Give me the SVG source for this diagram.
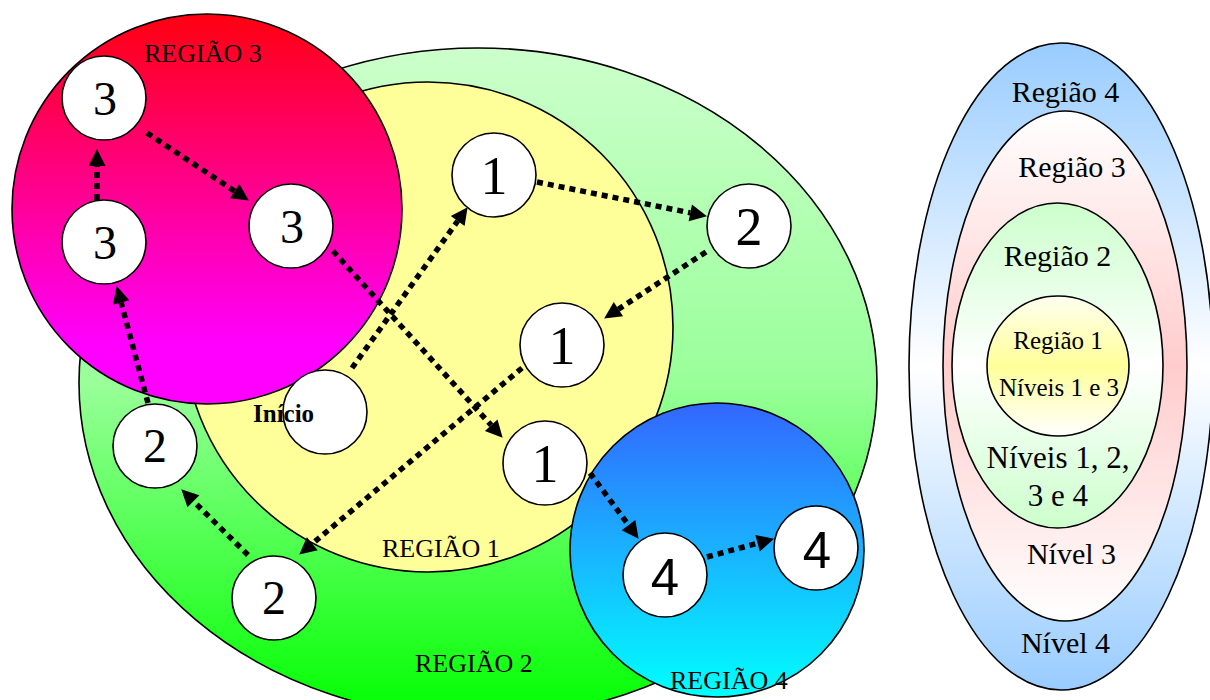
<svg xmlns="http://www.w3.org/2000/svg" width="1210" height="700" viewBox="0 0 1210 700">
  <style>
    .region { stroke: #000; stroke-width: 1.6; }
    .node { fill: #fff; stroke: #000; stroke-width: 1.6; }
    .lbl { font-family: "Liberation Serif", "Times New Roman", serif; fill: #000; }
    .num { font-family: "Liberation Serif", "Times New Roman", serif; fill: #000; text-anchor: middle; }
    .num4 { font-family: "Liberation Sans", Arial, sans-serif; fill: #000; text-anchor: middle; }
    .mid { text-anchor: middle; }
    .flow { fill: none; stroke: #000; stroke-width: 5.5; stroke-dasharray: 6 5; marker-end: url(#head); }
  </style>
  <defs>
    <marker id="head" markerUnits="userSpaceOnUse" markerWidth="18" markerHeight="17" refX="0" refY="8.5" orient="auto" overflow="visible">
      <path d="M0,0 L17,8.5 L0,17 z" fill="#000"/>
    </marker>
    <linearGradient id="gGreen" x1="0" y1="0" x2="0" y2="1">
      <stop offset="0" stop-color="#CCFFCC"/>
      <stop offset="0.5" stop-color="#99FF99"/>
      <stop offset="1" stop-color="#00FF00"/>
    </linearGradient>
    <linearGradient id="gMagenta" x1="0" y1="0" x2="0" y2="1">
      <stop offset="0" stop-color="#FF0010"/>
      <stop offset="0.85" stop-color="#FF00FF"/>
      <stop offset="1" stop-color="#FF00FF"/>
    </linearGradient>
    <linearGradient id="gBlue" x1="0" y1="0" x2="0" y2="1">
      <stop offset="0" stop-color="#3366FF"/>
      <stop offset="1" stop-color="#00FFFF"/>
    </linearGradient>
    <linearGradient id="kBlue" x1="0" y1="0" x2="0" y2="1">
      <stop offset="0" stop-color="#99CCFF"/>
      <stop offset="0.5" stop-color="#FFFFFF"/>
      <stop offset="1" stop-color="#99CCFF"/>
    </linearGradient>
    <linearGradient id="kPink" x1="0" y1="0" x2="0" y2="1">
      <stop offset="0" stop-color="#FFFFFF"/>
      <stop offset="0.5" stop-color="#FFCCCC"/>
      <stop offset="1" stop-color="#FFFFFF"/>
    </linearGradient>
    <linearGradient id="kGreen" x1="0" y1="0" x2="0" y2="1">
      <stop offset="0" stop-color="#CCFFCC"/>
      <stop offset="0.5" stop-color="#FFFFFF"/>
      <stop offset="1" stop-color="#CCFFCC"/>
    </linearGradient>
    <linearGradient id="kYellow" x1="0" y1="0" x2="0" y2="1">
      <stop offset="0" stop-color="#FFFFF0"/>
      <stop offset="0.5" stop-color="#FFFF99"/>
      <stop offset="1" stop-color="#FFFFFF"/>
    </linearGradient>
  </defs>

  <!-- regions of the main map -->
  <g id="regiao2">
    <ellipse class="region" cx="478" cy="383" rx="399" ry="335" fill="url(#gGreen)"/>
  </g>
  <g id="regiao1">
    <circle class="region" cx="428" cy="327" r="245" fill="#FFFF99"/>
    <text class="lbl" x="382" y="557" font-size="26">REGIÃO 1</text>
  </g>
  <g id="regiao3">
    <circle class="region" cx="207" cy="209" r="195" fill="url(#gMagenta)"/>
    <text class="lbl" x="144" y="62" font-size="26">REGIÃO 3</text>
  </g>
  <g id="regiao4">
    <circle class="region" cx="717" cy="550" r="147" fill="url(#gBlue)"/>
  </g>
  <text class="lbl" x="415" y="672" font-size="26">REGIÃO 2</text>
  <text class="lbl" x="670" y="689" font-size="26">REGIÃO 4</text>

  <!-- nodes -->
  <g id="inicio">
    <circle class="node" cx="325" cy="412" r="42"/>
    <text class="lbl" x="253" y="422" font-size="25" font-weight="bold">Início</text>
  </g>
  <g id="n1a">
    <circle class="node" cx="494" cy="175" r="42"/>
    <text class="num" x="494" y="194" font-size="54">1</text>
  </g>
  <g id="n2a">
    <circle class="node" cx="749" cy="226" r="42"/>
    <text class="num" x="749" y="245" font-size="54">2</text>
  </g>
  <g id="n1b">
    <circle class="node" cx="562" cy="345" r="42"/>
    <text class="num" x="562" y="364" font-size="54">1</text>
  </g>
  <g id="n1c">
    <circle class="node" cx="545" cy="463" r="42"/>
    <text class="num" x="545" y="482" font-size="54">1</text>
  </g>
  <g id="n2b">
    <circle class="node" cx="274" cy="598" r="42"/>
    <text class="num" x="274" y="614" font-size="48">2</text>
  </g>
  <g id="n2c">
    <circle class="node" cx="155" cy="446" r="42"/>
    <text class="num" x="155" y="462" font-size="48">2</text>
  </g>
  <g id="n3a">
    <circle class="node" cx="104" cy="98" r="42"/>
    <text class="num" x="105" y="115" font-size="48">3</text>
  </g>
  <g id="n3b">
    <circle class="node" cx="104" cy="242" r="42"/>
    <text class="num" x="105" y="259" font-size="48">3</text>
  </g>
  <g id="n3c">
    <circle class="node" cx="291" cy="226" r="42"/>
    <text class="num" x="292" y="243" font-size="48">3</text>
  </g>
  <g id="n4a">
    <circle class="node" cx="665" cy="575" r="42"/>
    <text class="num4" x="665" y="595" font-size="51">4</text>
  </g>
  <g id="n4b">
    <circle class="node" cx="816" cy="548" r="42"/>
    <text class="num4" x="817" y="568" font-size="51">4</text>
  </g>

  <!-- dotted path between the nodes -->
  <g id="connectors">
    <line class="flow" x1="352" y1="368" x2="457.7" y2="221"/>
    <line class="flow" x1="537" y1="182" x2="690.3" y2="212.8"/>
    <line class="flow" x1="706" y1="252" x2="618.4" y2="309.2"/>
    <line class="flow" x1="522" y1="368" x2="312.3" y2="543.7"/>
    <line class="flow" x1="248" y1="555" x2="193.4" y2="501.2"/>
    <line class="flow" x1="148" y1="403" x2="121.1" y2="302.5"/>
    <line class="flow" x1="97" y1="200" x2="97" y2="166"/>
    <line class="flow" x1="147" y1="133" x2="234.7" y2="191.2"/>
    <line class="flow" x1="333" y1="251" x2="491.2" y2="425.2"/>
    <line class="flow" x1="590" y1="473" x2="628.5" y2="525.1"/>
    <line class="flow" x1="707" y1="557" x2="757.6" y2="543.2"/>
  </g>

  <!-- nested legend -->
  <g id="legenda4">
    <ellipse class="region" cx="1061" cy="366.5" rx="152" ry="323.5" fill="url(#kBlue)"/>
    <text class="lbl mid" x="1065.5" y="102" font-size="30">Região 4</text>
    <text class="lbl mid" x="1065.5" y="653" font-size="30">Nível 4</text>
  </g>
  <g id="legenda3">
    <ellipse class="region" cx="1065" cy="366" rx="122" ry="255" fill="url(#kPink)"/>
    <text class="lbl mid" x="1072" y="177" font-size="30">Região 3</text>
    <text class="lbl mid" x="1071.5" y="564" font-size="30">Nível 3</text>
  </g>
  <g id="legenda2">
    <ellipse class="region" cx="1057.5" cy="365.5" rx="105.5" ry="162.5" fill="url(#kGreen)"/>
    <text class="lbl mid" x="1057.5" y="266" font-size="30">Região 2</text>
    <text class="lbl mid" x="1058" y="468" font-size="31">Níveis 1, 2,</text>
    <text class="lbl mid" x="1058" y="506" font-size="31">3 e 4</text>
  </g>
  <g id="legenda1">
    <ellipse class="region" cx="1058" cy="366" rx="71" ry="70" fill="url(#kYellow)"/>
    <text class="lbl mid" x="1058" y="349" font-size="25">Região 1</text>
    <text class="lbl mid" x="1059" y="396" font-size="25">Níveis 1 e 3</text>
  </g>
</svg>
